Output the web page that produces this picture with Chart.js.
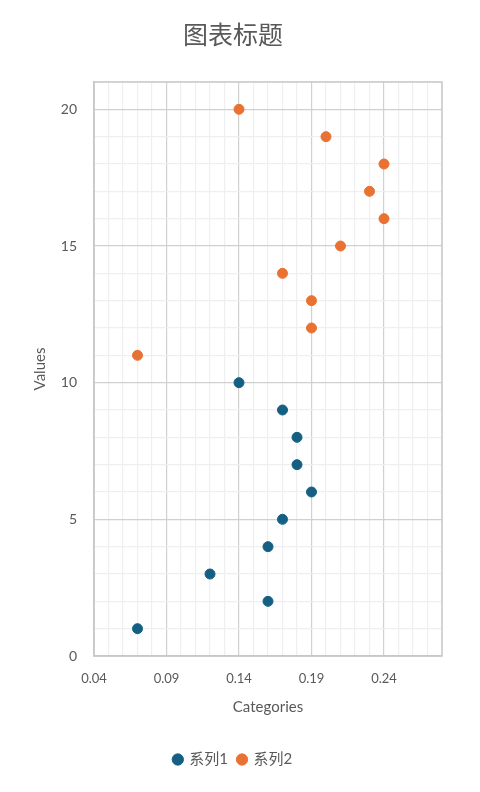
<!DOCTYPE html>
<html>
<head>
<meta charset="utf-8">
<script src="https://cdn.jsdelivr.net/npm/chart.js@4/dist/chart.umd.min.js"></script>
<style>
  html, body { margin: 0; padding: 0; background: #fff; }
  #wrap { width: 480px; height: 792px; }
</style>
</head>
<body>
<div id="wrap"><canvas id="chart" width="480" height="792"></canvas></div>
<script>
// data
const series1X = [0.07, 0.16, 0.12, 0.16, 0.17, 0.19, 0.18, 0.18, 0.17, 0.14];
const series1Y = [1, 2, 3, 4, 5, 6, 7, 8, 9, 10];
const series2X = [0.07, 0.19, 0.19, 0.17, 0.21, 0.24, 0.23, 0.24, 0.20, 0.14];
const series2Y = [11, 12, 13, 14, 15, 16, 17, 18, 19, 20];
const seriesNames = ['系列1', '系列2'];
const xMin = 0.04, xMax = 0.28, xMajor = 0.05;
const yMin = 0, yMax = 21, yMajor = 5;

const FONT = 'Lato, "Noto Sans CJK SC", sans-serif';
const TXT = '#595959';

function toPoints(xs, ys) {
  return xs.map((x, i) => ({ x: x, y: ys[i] }));
}

function isXMajor(v) {
  return Math.round((v - xMin) * 100) % Math.round(xMajor * 100) === 0;
}
function isYMajor(v) {
  return Math.round(v) % yMajor === 0;
}

const ctx = document.getElementById('chart').getContext('2d');
new Chart(ctx, {
  type: 'scatter',
  data: {
    datasets: [
      {
        label: seriesNames[0],
        data: toPoints(series1X, series1Y),
        backgroundColor: '#156082',
        borderColor: '#156082',
        pointRadius: 5,
        pointHoverRadius: 5
      },
      {
        label: seriesNames[1],
        data: toPoints(series2X, series2Y),
        backgroundColor: '#E97132',
        borderColor: '#E97132',
        pointRadius: 5,
        pointHoverRadius: 5
      }
    ]
  },
  options: {
    responsive: false,
    animation: false,
    layout: { padding: { left: 24, right: 38, top: 0, bottom: 15 } },
    plugins: {
      title: {
        display: true,
        text: '图表标题',
        color: TXT,
        font: { family: FONT, size: 25, weight: 'normal' },
        padding: { top: 21, bottom: 31 }
      },
      legend: {
        position: 'bottom',
        labels: {
          usePointStyle: true,
          pointStyle: 'circle',
          boxWidth: 8,
          boxHeight: 8,
          color: TXT,
          font: { family: FONT, size: 15 },
          padding: 10
        }
      },
      tooltip: { enabled: false }
    },
    scales: {
      x: {
        type: 'linear',
        min: xMin,
        max: xMax,
        afterFit: (scale) => { scale.height = 86; },
        ticks: {
          stepSize: 0.01,
          autoSkip: false,
          maxRotation: 0,
          color: TXT,
          font: { family: FONT, size: 13 },
          padding: 15,
          callback: (v) => isXMajor(v) ? v.toFixed(2) : ''
        },
        grid: {
          color: (c) => isXMajor(c.tick.value) ? '#d0d0d0' : '#efefef',
          lineWidth: 1.2,
          drawTicks: false
        },
        border: { color: '#c8c8c8', width: 1.5 },
        title: {
          display: true,
          text: 'Categories',
          color: TXT,
          font: { family: FONT, size: 15 },
          padding: { top: 4, bottom: 26 }
        }
      },
      y: {
        type: 'linear',
        min: yMin,
        max: yMax,
        afterFit: (scale) => { scale.width = 70; },
        ticks: {
          stepSize: 1,
          autoSkip: false,
          color: TXT,
          font: { family: FONT, size: 14 },
          padding: 17,
          callback: (v) => isYMajor(v) ? String(v) : ''
        },
        grid: {
          color: (c) => isYMajor(c.tick.value) ? '#d0d0d0' : '#efefef',
          lineWidth: 1.2,
          drawTicks: false
        },
        border: { color: '#c8c8c8', width: 1.5 },
        title: {
          display: true,
          text: 'Values',
          color: TXT,
          font: { family: FONT, size: 15 },
          padding: { top: 7, bottom: 4 }
        }
      }
    }
  },
  plugins: [{
    id: 'frame',
    afterDraw(chart) {
      const a = chart.chartArea;
      const c = chart.ctx;
      c.save();
      c.strokeStyle = '#c8c8c8';
      c.lineWidth = 1.5;
      c.strokeRect(a.left, a.top, a.right - a.left, a.bottom - a.top);
      c.restore();
    }
  }]
});
</script>
</body>
</html>
